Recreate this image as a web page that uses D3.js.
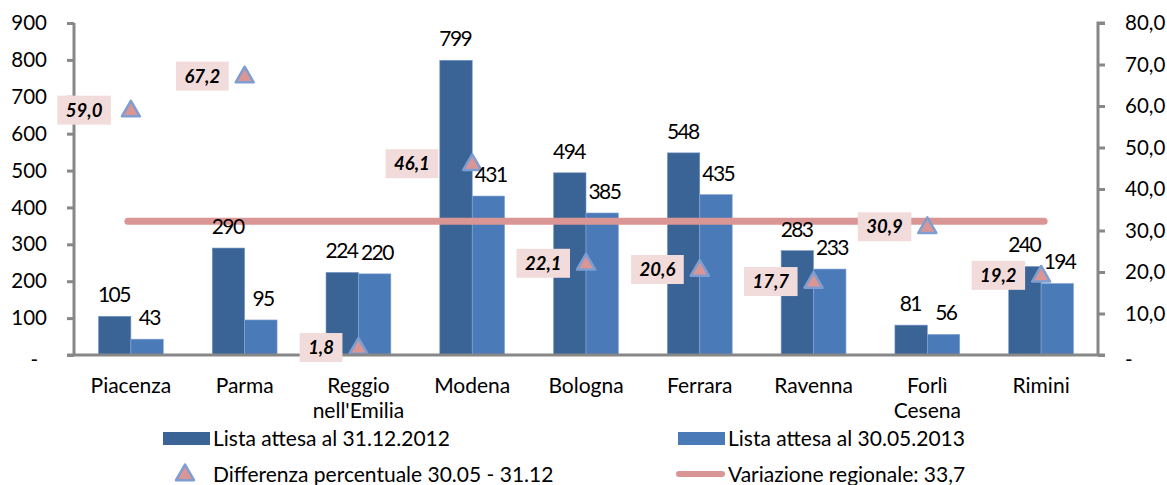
<!DOCTYPE html>
<html><head><meta charset="utf-8">
<script src="https://cdn.jsdelivr.net/npm/d3@7"></script>
<style>body{margin:0;background:#fff}svg{display:block;font-family:Lato,"Open Sans",sans-serif}</style>
</head><body><svg id="c" width="1167" height="485"></svg>
<script>
const categories = ["Piacenza","Parma","Reggio\nnell'Emilia","Modena","Bologna","Ferrara","Ravenna","Forlì\nCesena","Rimini"];
const lista2012 = [105,290,224,799,494,548,283,81,240];
const lista2013 = [43,95,220,431,385,435,233,56,194];
const diffPct = [59.0,67.2,1.8,46.1,22.1,20.6,17.7,30.9,19.2];
const regionalLine = 32.2;
const leftTicks = [0,100,200,300,400,500,600,700,800,900];
const rightTicks = [0,10,20,30,40,50,60,70,80];
const seriesNames = ["Lista attesa al 31.12.2012","Lista attesa al 30.05.2013","Differenza percentuale 30.05 - 31.12","Variazione regionale: 33,7"];

const C_DARK="#3b6496", C_LIGHT="#4a7bb8", C_PINK="#d99694", C_TRI_STROKE="#7e9ed2", C_BOX="#f2dcdb", C_AXIS="#878787";
const FS=21;
const svg=d3.select("#c");
const x=d3.scaleBand().domain(categories).range([74,1098]);
const yL=d3.scaleLinear().domain([0,900]).range([355,23]);
const yR=d3.scaleLinear().domain([0,80]).range([355,23]);
const bw=x.bandwidth()*0.285;
const cx=c=>x(c)+x.bandwidth()/2;

// bars
const g=svg.append("g");
g.selectAll(".b1").data(categories).join("rect").attr("x",c=>cx(c)-bw).attr("width",bw)
 .attr("y",(c,i)=>yL(lista2012[i])).attr("height",(c,i)=>yL(0)-yL(lista2012[i])).attr("fill",C_DARK).attr("stroke","#7c9cc8").attr("stroke-width",0.6);
g.selectAll(".b2").data(categories).join("rect").attr("x",c=>cx(c)).attr("width",bw)
 .attr("y",(c,i)=>yL(lista2013[i])).attr("height",(c,i)=>yL(0)-yL(lista2013[i])).attr("fill",C_LIGHT).attr("stroke","#8aa9d4").attr("stroke-width",0.6);

// regional line
svg.append("line").attr("x1",cx(categories[0])-3).attr("x2",cx(categories[categories.length-1])+3)
 .attr("y1",yR(regionalLine)).attr("y2",yR(regionalLine)).attr("stroke",C_PINK).attr("stroke-width",7).attr("stroke-linecap","round");

// triangles
const tri=d3.symbol().type(d3.symbolTriangle).size(140);
svg.selectAll(".tri").data(categories).join("path").attr("d",tri)
 .attr("transform",(c,i)=>`translate(${cx(c)},${yR(diffPct[i])+1})`)
 .attr("fill",C_PINK).attr("stroke",C_TRI_STROKE).attr("stroke-width",2.5).attr("stroke-linejoin","round");

// value labels
const vl=svg.append("g").attr("font-size",FS).attr("fill","#000").attr("text-anchor","middle").attr("letter-spacing",-1.6);
vl.selectAll(".l1").data(categories).join("text").attr("x",c=>cx(c)-bw/2-0.8).attr("y",(c,i)=>yL(lista2012[i])-14).text((c,i)=>lista2012[i]);
vl.selectAll(".l2").data(categories).join("text").attr("x",c=>cx(c)+bw/2+2.2).attr("y",(c,i)=>yL(lista2013[i])-14).text((c,i)=>lista2013[i]);

// axes
const axL=svg.append("g").attr("transform","translate(74,0)").call(d3.axisLeft(yL).tickValues(leftTicks).tickSize(7).tickPadding(20).tickFormat(d=>d===0?"-":d));
const axR=svg.append("g").attr("transform","translate(1098,0)").call(d3.axisRight(yR).tickValues(rightTicks).tickSize(7).tickPadding(20).tickFormat(d=>d===0?"-":d3.format(".1f")(d).replace(".",",")));
[axL,axR].forEach(a=>{a.selectAll("path,line").attr("stroke",C_AXIS).attr("stroke-width",3);
 a.selectAll("text").attr("font-size",20.5).attr("fill","#000").attr("font-family","Lato");});
axL.select(".domain").attr("d","M0,23V355");
axR.select(".domain").attr("d","M7,23H0V355");
axL.selectAll(".tick").filter(d=>d===0).select("text").attr("x",-36).attr("dy","0.55em");
axR.selectAll(".tick").filter(d=>d===0).select("text").attr("dy","0.55em");
svg.append("line").attr("x1",67).attr("x2",1105).attr("y1",355).attr("y2",355).attr("stroke",C_AXIS).attr("stroke-width",3);

// category labels
const cl=svg.append("g").attr("font-size",FS).attr("text-anchor","middle");
categories.forEach(c=>{const t=cl.append("text").attr("x",cx(c)).attr("y",393);
 c.split("\n").forEach((s,j)=>t.append("tspan").attr("x",cx(c)).attr("dy",j?25:0).text(s));});

// pct boxes
const shift={"Modena":18,"Piacenza":4};
const pb=svg.append("g");
categories.forEach((c,i)=>{
 const txt=d3.format(".1f")(diffPct[i]).replace(".",",");
 const gg=pb.append("g");
 const t=gg.append("text").attr("font-size",18.5).attr("font-weight","bold").attr("font-style","italic").attr("text-anchor","middle").text(txt);
 const w=t.node().getComputedTextLength()+17;
 const right=cx(c)-16-(shift[c]||0);
 const yc=yR(diffPct[i]);
 gg.insert("rect","text").attr("x",right-w).attr("y",yc-14.5).attr("width",w).attr("height",29).attr("fill",C_BOX);
 t.attr("x",right-w/2).attr("y",yc+6.5);
});

// legend
const lg=svg.append("g").attr("font-size",FS);
lg.append("rect").attr("x",163).attr("y",432).attr("width",47).attr("height",13).attr("fill",C_DARK);
lg.append("text").attr("x",213).attr("y",446).text(seriesNames[0]);
lg.append("rect").attr("x",678).attr("y",432).attr("width",47).attr("height",13).attr("fill",C_LIGHT);
lg.append("text").attr("x",728).attr("y",446).text(seriesNames[1]);
lg.append("path").attr("d",tri).attr("transform","translate(185,475)").attr("fill",C_PINK).attr("stroke",C_TRI_STROKE).attr("stroke-width",2.5).attr("stroke-linejoin","round");
lg.append("text").attr("x",213).attr("y",482).text(seriesNames[2]);
lg.append("line").attr("x1",679).attr("x2",722).attr("y1",474).attr("y2",474).attr("stroke",C_PINK).attr("stroke-width",6).attr("stroke-linecap","round");
lg.append("text").attr("x",728).attr("y",482).text(seriesNames[3]);
</script></body></html>
